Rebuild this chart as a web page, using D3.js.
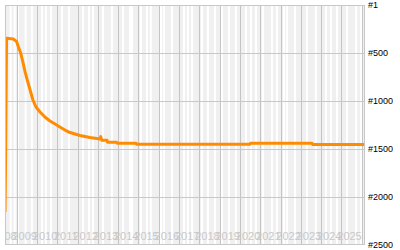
<!DOCTYPE html>
<html>
<head>
<meta charset="utf-8">
<script src="https://cdn.jsdelivr.net/npm/d3@7"></script>
<style>
  body { margin: 0; background: #fff; }
  svg { display: block; }
  .ylabels text { font-family: "Liberation Sans", Arial, sans-serif; font-size: 9px; fill: #000; }
  .xlabels text { font-family: "Liberation Sans", Arial, sans-serif; font-size: 11px; fill: #c8c8c8; }
</style>
</head>
<body>
<svg width="400" height="250"></svg>
<script>
// rank history, as decimal years and ranks
var years = [2008.424, 2008.45, 2008.50, 2008.52, 2008.83, 2009.0, 2009.08, 2009.20, 2009.30, 2009.41,
             2009.52, 2009.66, 2009.80, 2009.95, 2010.15, 2010.39, 2010.64, 2010.89, 2011.13, 2011.38,
             2011.63, 2012.12, 2012.61, 2013.10, 2013.14, 2013.17, 2013.20, 2013.45, 2013.48, 2013.92,
             2013.95, 2014.88, 2014.91, 2020.49, 2020.52, 2023.55, 2023.58, 2026.16];
var ranks = [2156, 1667, 365, 348, 355, 383, 435, 504, 591, 695,
             782, 886, 990, 1063, 1115, 1167, 1209, 1240, 1271, 1303,
             1329, 1360, 1381, 1396, 1372, 1396, 1410, 1410, 1431, 1431,
             1440, 1440, 1452, 1452, 1440, 1440, 1453, 1453];

// white marker stripes in the background (decimal years)
var markers = [2008.70, 2008.90, 2009.06, 2009.44, 2009.75, 2010.25, 2010.44, 2010.69, 2011.23, 2011.58,
               2012.27, 2012.56, 2012.76, 2013.25, 2013.69, 2014.24, 2014.58, 2014.68, 2015.12, 2015.42,
               2015.61, 2016.11, 2016.26, 2016.65, 2017.24, 2017.44, 2017.64, 2018.13, 2018.42, 2018.77,
               2019.11, 2019.46, 2019.80, 2020.30, 2020.54, 2020.79, 2021.13, 2021.58, 2021.82, 2022.17,
               2022.32, 2022.71, 2023.30, 2023.74, 2024.24, 2024.48, 2024.78, 2025.27, 2025.72, 2025.97];

// year lines and the label that sits left of each line
var yearTicks = [2009, 2010, 2011, 2012, 2013, 2014, 2015, 2016, 2017, 2018,
                 2019, 2020, 2021, 2022, 2023, 2024, 2025, 2026];
var yearLabels = ["2008", "2009", "2010", "2011", "2012", "2013", "2014", "2015", "2016", "2017",
                  "2018", "2019", "2020", "2021", "2022", "2023", "2024", "2025"];

// rank ticks on the right
var rankTicks = [1, 500, 1000, 1500, 2000, 2500];
var rankLabels = ["#1", "#500", "#1000", "#1500", "#2000", "#2500"];

// turn a decimal year into a Date
function toDate(y) {
  var yr = Math.floor(y);
  var start = new Date(yr, 0, 1), end = new Date(yr + 1, 0, 1);
  return new Date(+start + (y - yr) * (end - start));
}

function main()
{
  // plot area edges ("top" is taken by window.top, so use other names)
  var pl = 5, pr = 365, pt = 5, pb = 245;

  var x = d3.scaleTime()
    .domain([toDate(2008.424), toDate(2026.16)])
    .range([pl, pr]);

  var y = d3.scaleLinear()
    .domain([1, 2500])
    .range([pt, pb]);

  var svg = d3.select("svg");

  svg.append("clipPath").attr("id", "plot")
    .append("rect")
    .attr("x", pl).attr("y", pt)
    .attr("width", pr - pl).attr("height", pb - pt);

  // plot background
  svg.append("rect")
    .attr("x", pl).attr("y", pt)
    .attr("width", pr - pl).attr("height", pb - pt)
    .attr("fill", "#f0f0f0");

  var plot = svg.append("g").attr("clip-path", "url(#plot)");

  // white stripes
  plot.append("g")
    .selectAll("line")
    .data(markers)
    .enter()
    .append("line")
    .attr("x1", function (d) { return x(toDate(d)); })
    .attr("x2", function (d) { return x(toDate(d)); })
    .attr("y1", pt).attr("y2", pb)
    .attr("stroke", "#fff")
    .attr("stroke-width", 2);

  // year grid lines
  plot.append("g")
    .selectAll("line")
    .data(yearTicks)
    .enter()
    .append("line")
    .attr("x1", function (d) { return Math.round(x(toDate(d))) + 0.5; })
    .attr("x2", function (d) { return Math.round(x(toDate(d))) + 0.5; })
    .attr("y1", pt).attr("y2", pb)
    .attr("stroke", "#c4c4c4");

  // rank grid lines
  plot.append("g")
    .selectAll("line")
    .data(rankTicks)
    .enter()
    .append("line")
    .attr("x1", pl).attr("x2", pr)
    .attr("y1", function (d) { return Math.round(y(d)) + 0.5; })
    .attr("y2", function (d) { return Math.round(y(d)) + 0.5; })
    .attr("stroke", "#c8c8c8");

  // year labels, right aligned at each year line
  plot.append("g")
    .attr("class", "xlabels")
    .selectAll("text")
    .data(yearTicks)
    .enter()
    .append("text")
    .attr("x", function (d) { return x(toDate(d)); })
    .attr("y", 240)
    .attr("text-anchor", "end")
    .text(function (d, i) { return yearLabels[i]; });

  // the rank line
  var line = d3.line()
    .x(function (d, i) { return x(toDate(years[i])); })
    .y(function (d) { return y(d); });

  plot.append("path")
    .datum(ranks)
    .attr("d", line)
    .attr("fill", "none")
    .attr("stroke", "#ff8c00")
    .attr("stroke-width", 3)
    .attr("stroke-linejoin", "round");

  // plot border
  svg.append("rect")
    .attr("x", pl + 0.5).attr("y", pt + 0.5)
    .attr("width", pr - pl - 1).attr("height", pb - pt - 1)
    .attr("fill", "none")
    .attr("stroke", "#c8c8c8");

  // rank labels on the right
  var yAxis = d3.axisRight(y)
    .tickValues(rankTicks)
    .tickFormat(function (d, i) { return rankLabels[i]; })
    .tickSize(0)
    .tickPadding(3);

  svg.append("g")
    .attr("class", "ylabels")
    .attr("transform", "translate(" + pr + ",0)")
    .call(yAxis)
    .call(function (g) { g.select(".domain").remove(); })
    .call(function (g) { g.selectAll("text").attr("font-size", null).attr("font-family", null).attr("fill", null); });
}

main();
</script>
</body>
</html>
